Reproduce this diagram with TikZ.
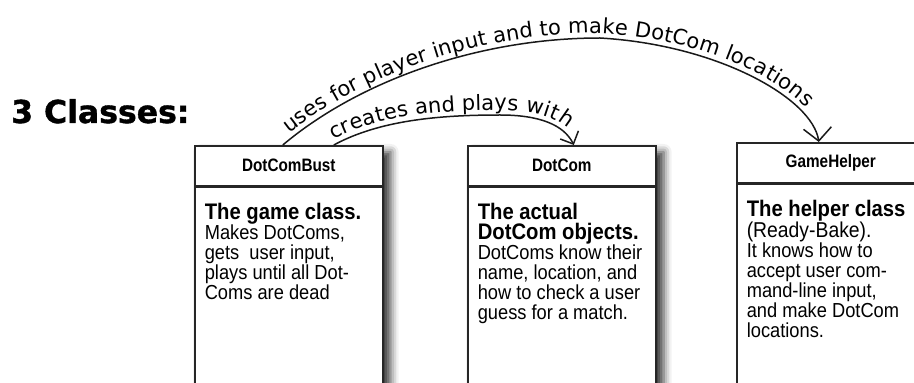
\documentclass[tikz,border=0pt]{standalone}
\usepackage{fontspec}
\setmainfont[FakeStretch=0.9]{Liberation Sans}
\newfontfamily\headfont[FakeStretch=0.85]{Liberation Sans}
\newfontfamily\handfont{DejaVu Sans}
\newfontfamily\bigfont[FakeBold=1.2]{DejaVu Sans Bold}
\usepackage{tikz}
\usetikzlibrary{arrows.meta,bending,positioning,decorations.text,shadows.blur,backgrounds}

\newcommand\classtext[2]{\parbox[c][#1][t]{168pt}{\raggedright #2}}
\newcommand\classlead[1]{{\bfseries\fontsize{22.5}{20}\selectfont #1}}

\begin{document}
\begin{tikzpicture}[x=1pt, y=1pt,
    classhead/.style={draw=black!85, line width=1.6pt, fill=white, minimum width=188pt,
      minimum height=40pt, inner sep=0pt, font=\headfont\bfseries\fontsize{18}{18}\selectfont},
    classbody/.style={draw=black!85, line width=1.6pt, fill=white, inner xsep=10pt,
      inner ysep=16pt, font=\fontsize{20.3}{20}\selectfont},
    link/.style={line width=1.5pt, black!90},
    boxshadow/.style={blur shadow={shadow xshift=7pt, shadow yshift=-7pt,
      shadow blur radius=8pt, shadow opacity=80}}]
    \useasboundingbox (0,0) rectangle (914,383);

    % Titel
    \node[anchor=base west, inner sep=0pt, font=\bigfont\fontsize{31.5}{31.5}\selectfont]
      (title) at (11,260) {3 Classes:};

    % Klassen
    \node[classhead, anchor=north west] (bust) at (194,238) {DotComBust};
    \node[classbody, below=0pt of bust] (bustbody) {\classtext{200pt}{%
      \classlead{The game class.}\\ Makes DotComs,\\ gets\ \ user input,\\
      plays until all Dot-\\ Coms are dead}};

    \node[classhead, anchor=north west] (dotcom) at (467,238) {DotCom};
    \node[classbody, below=0pt of dotcom] (dotcombody) {\classtext{200pt}{%
      \classlead{The actual}\\ \classlead{DotCom objects.}\\ DotComs know their\\
      name, location, and\\ how to check a user\\ guess for a match.}};

    \node[classhead, anchor=north west] (helper) at (736,241) {GameHelper};
    \node[classbody, below=0pt of helper] (helperbody) {\classtext{167pt}{%
      \classlead{The helper class}\\ {\fontsize{21.5}{20}\selectfont (Ready-Bake).}\\
      It knows how to\\ accept user com-\\ mand-line input,\\ and make DotCom\\ locations.}};

    % Schatten
    \begin{scope}[on background layer]
      \path[boxshadow] (bust.north west) rectangle (bustbody.south east);
      \path[boxshadow] (dotcom.north west) rectangle (dotcombody.south east);
    \end{scope}

    % Beziehungen
    \draw[link, -{Straight Barb[length=13pt,width=28pt]},
      postaction={decorate, decoration={text along path, raise=5pt,
        text align={left, left indent=12pt},
        text={|\handfont\fontsize{21}{21}\selectfont|uses for player input and to make DotCom locations}}}]
      ([xshift=-6pt]bust.north) .. controls (360,303) and (480,345) .. (600,345)
      .. controls (720,338) and (815,283) .. ([xshift=-12pt]helper.north);
    \draw[link, -{Straight Barb[length=10pt,width=20pt]},
      postaction={decorate, decoration={text along path, raise=5pt,
        text align={left, left indent=2pt},
        text={|\handfont\fontsize{21}{21}\selectfont|creates and plays with}}}]
      ([xshift=45pt]bust.north) .. controls (380,263) and (440,268) .. (500,268)
      .. controls (540,268) and (565,258) .. ([xshift=12pt]dotcom.north);
  \end{tikzpicture}
\end{document}
